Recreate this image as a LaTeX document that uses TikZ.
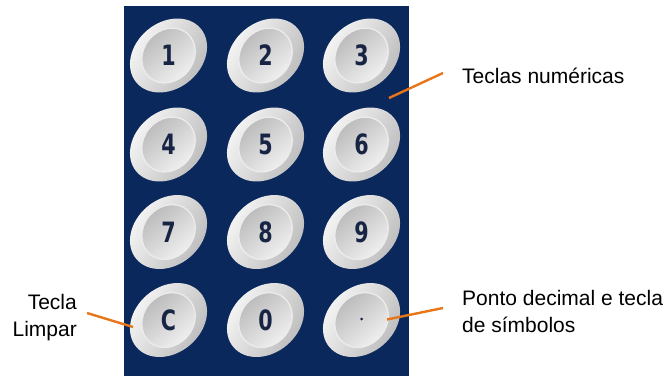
\documentclass[tikz,border=0pt]{standalone}
\usepackage{fontspec}
\setmainfont{Liberation Sans}
\newfontfamily\keyfont{DejaVu Sans Condensed Bold}[FakeStretch=0.82]
\usetikzlibrary{calc}

\definecolor{panelblue}{RGB}{10,40,92}
\definecolor{keyink}{RGB}{24,36,68}
\definecolor{callout}{RGB}{232,117,24}

\tikzset{
  % raised oval key: tilted outer rim with a concave face inside
  pics/keycap/.style={code={
    \shade[rotate=40, top color=gray!5, bottom color=gray!55, shading angle=60]
      (0,0) ellipse [x radius=42pt, y radius=33pt];
    \shade[rotate=50, top color=gray!55, bottom color=gray!10, shading angle=40]
      (0,0) ellipse [x radius=29pt, y radius=25pt];
    \draw[rotate=50, white!85!gray, line width=1.3pt]
      (0,0) ellipse [x radius=29pt, y radius=25pt];
  }},
  keylabel/.style={text=keyink, font=\keyfont\fontsize{28}{28}\selectfont, inner sep=0pt},
  lbl/.style={text=black, font=\fontsize{21}{27}\selectfont, inner sep=0pt},
  pointer/.style={draw=callout, line width=2.4pt}
}

\begin{document}
\begin{tikzpicture}[x=1pt,y=1pt]
  \useasboundingbox (0,0) rectangle (668,376);

  % keypad panel
  \fill[panelblue] (124,0) rectangle (409,370);

  % keys, row by row
  \foreach \lab/\x/\y in {1/168.5/320.5, 2/265.5/320.5, 3/361.5/320.5,
                          4/168.5/231.5, 5/265.5/231.5, 6/361.5/231.5,
                          7/168.5/144,   8/265.5/144,   9/361.5/144,
                          C/168.5/56,    0/265.5/56}{
    \pic at (\x,\y) {keycap};
    \node[keylabel] (k\lab) at (\x,\y) {\lab};
  }
  \pic at (361.5,56) {keycap};
  \node[fill=keyink, circle, inner sep=0pt, minimum size=3pt] (kdot) at (361.5,57) {};

  % labels (multi-line nodes sit on the baseline of their last line)
  \node[lbl, anchor=base west] (tnum) at (462,293) {Teclas numéricas};
  \node[lbl, anchor=base east, align=right] (tclr) at (77,40) {Tecla\\Limpar};
  \node[lbl, anchor=base west, align=left] (tdec) at (462,44) {Ponto decimal e tecla\\de símbolos};

  % pointer ends
  \coordinate (pnum) at (443,303);
  \coordinate (pclr) at (87,63);
  \coordinate (pdec) at (443,68);

  \draw[pointer] (pnum) -- ([shift={(27.5,46.5)}]k6.center);
  \draw[pointer] (pclr) -- ([shift={(-35.5,-7)}]kC.center);
  \draw[pointer] (pdec) -- ([shift={(25.5,-0.5)}]kdot.center);
\end{tikzpicture}
\end{document}
